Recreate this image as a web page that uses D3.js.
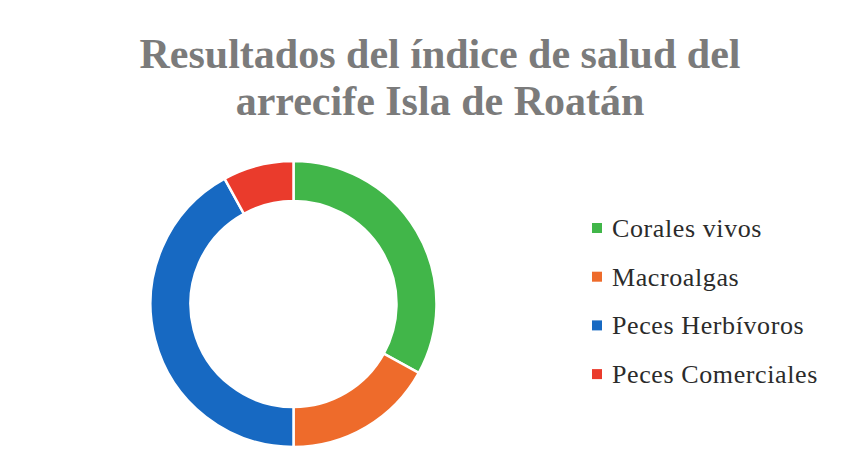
<!DOCTYPE html>
<html>
<head>
<meta charset="utf-8">
<script src="https://cdn.jsdelivr.net/npm/d3@7"></script>
<style>
  body { margin: 0; background: #fff; }
  svg { display: block; }
</style>
</head>
<body>
<svg id="chart" width="857" height="470"></svg>
<script>
/* Donut chart: reef health index, Roatán */
const categories = ["Corales vivos", "Macroalgas", "Peces Herbívoros", "Peces Comerciales"];
const values = [33, 17, 42, 8];
const colors = ["#41b649", "#ee6b2b", "#1769c2", "#ea3b2c"];
const titleLines = ["Resultados del índice de salud del", "arrecife Isla de Roatán"];

const svg = d3.select("svg#chart");
const cx = 293.5;
const cy = 304;
const outerR = 143;
const innerR = 103;

// title
svg.append("g")
    .selectAll("text")
    .data(titleLines)
    .join("text")
    .attr("x", 440)
    .attr("y", (d, i) => 68 + i * 47)
    .attr("text-anchor", "middle")
    .style("font-family", "'Liberation Serif', 'DejaVu Serif', serif")
    .style("font-size", "42px")
    .style("font-weight", "bold")
    .attr("fill", "#7b7b7b")
    .text(d => d);

// donut
const pie = d3.pie().sort(null).value(d => d);
const arc = d3.arc().innerRadius(innerR).outerRadius(outerR);
const color = d3.scaleOrdinal().domain(categories).range(colors);

svg.append("g")
    .attr("transform", `translate(${cx}, ${cy})`)
    .selectAll("path")
    .data(pie(values))
    .join("path")
    .attr("d", arc)
    .attr("fill", (d, i) => color(categories[i]))
    .attr("stroke", "#fff")
    .attr("stroke-width", 2.5);

// legend
const legend = svg.append("g").attr("transform", "translate(592, 228)");
const rowGap = 48.7;
legend.selectAll("rect")
    .data(categories)
    .join("rect")
    .attr("x", 0)
    .attr("y", (d, i) => i * rowGap - 5)
    .attr("width", 10)
    .attr("height", 10)
    .attr("fill", d => color(d));
legend.selectAll("text")
    .data(categories)
    .join("text")
    .attr("x", 20)
    .attr("y", (d, i) => i * rowGap + 9)
    .style("font-family", "'Liberation Serif', 'DejaVu Serif', serif")
    .style("font-size", "26px")
    .style("letter-spacing", "0.6px")
    .attr("fill", "#2b2b2b")
    .text(d => d);
</script>
</body>
</html>
